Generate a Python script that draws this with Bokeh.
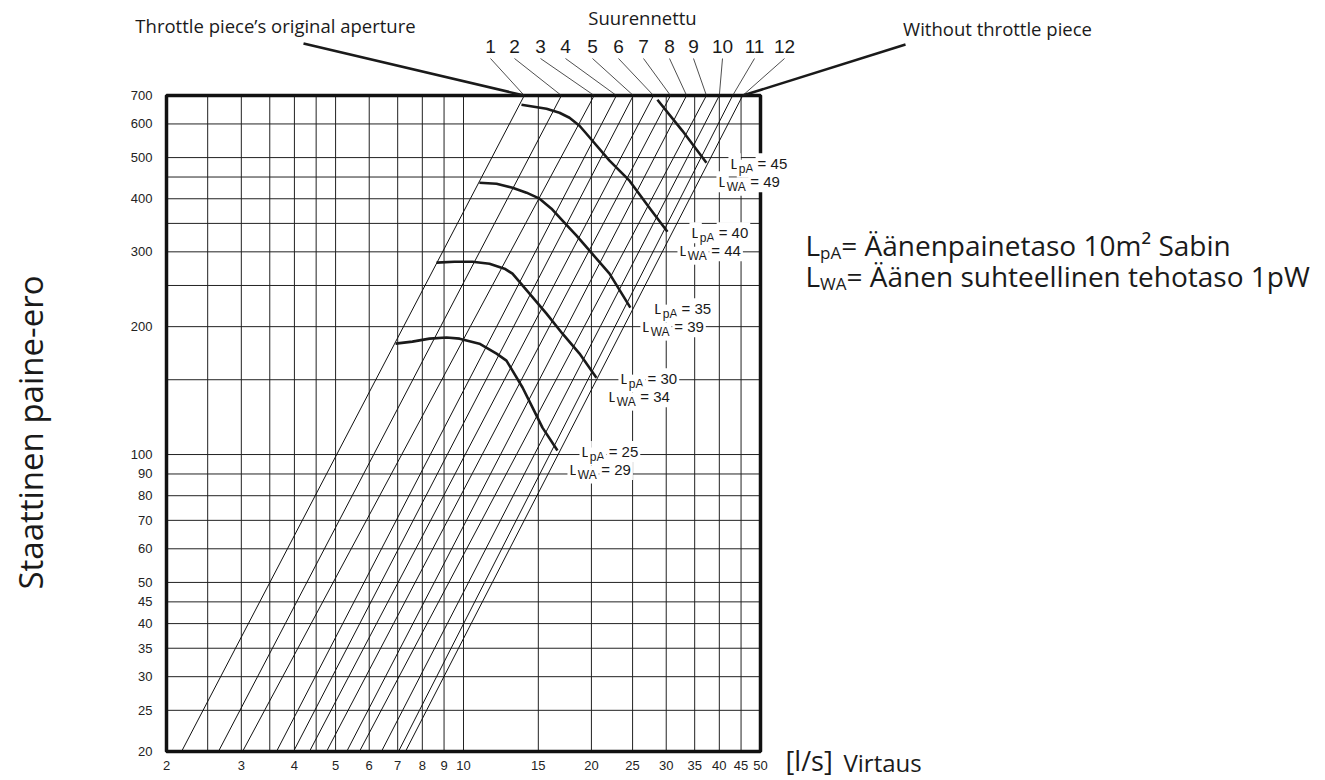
import math
from bokeh.plotting import figure
from bokeh.models import FixedTicker, Label, Arrow, BoxAnnotation, Range1d
from bokeh.embed import file_html
from bokeh.resources import INLINE

# ---------------- data ----------------
x_tick_values = [2, 3, 4, 5, 6, 7, 8, 9, 10, 15, 20, 25, 30, 35, 40, 45, 50]
x_grid_values = [2.5, 3, 3.5, 4, 4.5, 5, 6, 7, 8, 9, 10, 15, 20, 25, 30, 35, 40, 45]
y_tick_values = [20, 25, 30, 35, 40, 45, 50, 60, 70, 80, 90, 100, 200, 300, 400, 500, 600, 700]
y_grid_values = [25, 30, 35, 40, 45, 50, 60, 70, 80, 90, 100, 150, 200, 250, 300, 350, 400, 450, 500, 600]

throttle_positions = ["1", "2", "3", "4", "5", "6", "7", "8", "9", "10", "11", "12"]
flow_at_20pa = [2.17, 2.65, 3.02, 3.63, 3.98, 4.34, 4.76, 5.31, 5.69, 6.41, 7.03, 7.30]
flow_at_700pa = [13.9, 17.0, 20.3, 22.9, 25.1, 28.0, 30.7, 33.5, 37.3, 40.0, 43.0, 45.4]

lpa_levels = [25, 30, 35, 40, 45]
lwa_levels = [29, 34, 39, 44, 49]

lpa25_flow = [6.92, 7.58, 8.32, 9.12, 9.79, 10.9, 11.96, 12.62, 13.04, 13.77, 14.54, 15.34, 16.64]
lpa25_pres = [182.4, 184.4, 187.4, 188.5, 187.4, 182.4, 172.8, 166.4, 157.6, 143.8, 129.0, 115.7, 102.2]

lpa30_flow = [8.64, 9.52, 10.5, 11.51, 12.49, 13.04, 14.3, 15.68, 17.1, 18.75, 20.55]
lpa30_pres = [282.9, 284.4, 284.4, 281.3, 273.8, 266.5, 239.2, 214.6, 192.5, 172.8, 151.7]

lpa35_flow = [10.9, 11.96, 13.04, 14.07, 15.1, 16.11, 17.1, 18.45, 19.8, 22.06, 24.7]
lpa35_pres = [436.4, 434.0, 424.7, 413.4, 400.2, 379.1, 355.2, 327.6, 301.9, 266.5, 221.7]

lpa40_flow = [13.69, 15.68, 16.82, 17.76, 18.75, 19.47, 22.06, 24.58, 27.38, 30.2]
lpa40_pres = [666.0, 651.6, 637.6, 620.6, 594.2, 568.9, 491.8, 441.2, 381.1, 334.6]

lpa45_flow = [28.6, 32.75, 37.3]
lpa45_pres = [684.0, 578.0, 486.3]

curves_flow = [lpa25_flow, lpa30_flow, lpa35_flow, lpa40_flow, lpa45_flow]
curves_pres = [lpa25_pres, lpa30_pres, lpa35_pres, lpa40_pres, lpa45_pres]

# ---------------- layout ----------------
X0, X1 = 2, 50
Y0, Y1 = 20, 700
W, H = 1325, 780
BOX_L, BOX_T, BOX_W, BOX_H = 166, 95, 594, 656   # chart box in canvas pixels
DX = BOX_W / math.log10(X1 / X0)
DY = BOX_H / math.log10(Y1 / Y0)


def xd(px):  # canvas pixel -> data x
    return X0 * 10 ** ((px - BOX_L) / DX)


def yd(py):  # canvas pixel -> data y
    return Y1 * 10 ** ((BOX_T - py) / DY)


p = figure(width=W, height=H, x_axis_type="log", y_axis_type="log",
           x_range=Range1d(xd(0), xd(W)), y_range=Range1d(yd(H), yd(0)),
           output_backend="svg", toolbar_location=None, min_border=0)
p.background_fill_color = "white"
p.border_fill_color = "white"
p.outline_line_color = None
p.xgrid.visible = False
p.ygrid.visible = False

TICK_FONT = "Liberation Sans"
for ax in (p.xaxis[0], p.yaxis[0]):
    ax.axis_line_color = None
    ax.major_tick_line_color = None
    ax.minor_tick_line_color = None
    ax.major_tick_out = 0
    ax.major_tick_in = 0
    ax.minor_tick_out = 0
    ax.minor_tick_in = 0
    ax.major_label_text_font = TICK_FONT
    ax.major_label_text_font_size = "13px"
    ax.major_label_text_color = "#222222"

p.xaxis[0].fixed_location = Y0
p.xaxis[0].ticker = FixedTicker(ticks=x_tick_values)
p.xaxis[0].major_label_overrides = {v: str(v) for v in x_tick_values}
p.xaxis[0].major_label_standoff = 9
p.yaxis[0].fixed_location = X0
p.yaxis[0].ticker = FixedTicker(ticks=y_tick_values)
p.yaxis[0].major_label_overrides = {v: str(v) for v in y_tick_values}
p.yaxis[0].major_label_standoff = 14

# grid lines inside the chart box
p.segment(x0=x_grid_values, y0=[Y0] * len(x_grid_values),
          x1=x_grid_values, y1=[Y1] * len(x_grid_values),
          line_color="#222222", line_width=1)
p.segment(x0=[X0] * len(y_grid_values), y0=y_grid_values,
          x1=[X1] * len(y_grid_values), y1=y_grid_values,
          line_color="#222222", line_width=1)

# throttle lines
p.segment(x0=flow_at_20pa, y0=[Y0] * len(flow_at_20pa),
          x1=flow_at_700pa, y1=[Y1] * len(flow_at_700pa),
          line_color="#111111", line_width=1)

# sound level curves
for fl, pr in zip(curves_flow, curves_pres):
    p.line(fl, pr, line_color="#1a1a1a", line_width=2.6, line_join="round")

# chart border
p.add_layout(BoxAnnotation(left=X0, right=X1, bottom=Y0, top=Y1,
                           fill_color=None, fill_alpha=0,
                           line_color="#111111", line_alpha=1, line_width=3.5))


def lab(text, x, y, size, font="Open Sans", align="left", baseline="middle",
        angle=0.0, xo=0, yo=0, bg=None, color="#1a1a1a"):
    kw = {}
    if bg is not None:
        kw = dict(background_fill_color=bg, padding=2)
    l = Label(x=x, y=y, text=text, text_font=font, text_font_size=f"{size}px",
              text_align=align, text_baseline=baseline, angle=angle,
              x_offset=xo, y_offset=yo, text_color=color, **kw)
    p.add_layout(l)


# LpA / LWA labels anchored at curve ends
MAIN, SUB = 15, 12
wL = 0.556 * MAIN
wsp = 0.278 * MAIN
w_pA = (0.556 + 0.667) * SUB
w_WA = (0.944 + 0.667) * SUB
for fl, pr, lp, lw in zip(curves_flow, curves_pres, lpa_levels, lwa_levels):
    ex, ey = fl[-1], pr[-1]
    x1, y1 = 22, -1
    lab("L", ex, ey, MAIN, TICK_FONT, xo=x1, yo=y1, bg="white")
    lab("pA", ex, ey, SUB, TICK_FONT, xo=x1 + wL, yo=y1 - 5, bg="white")
    lab(f"= {lp}", ex, ey, MAIN, TICK_FONT, xo=x1 + wL + w_pA + wsp, yo=y1, bg="white")
    x2, y2 = 10, -19
    lab("L", ex, ey, MAIN, TICK_FONT, xo=x2, yo=y2, bg="white")
    lab("WA", ex, ey, SUB, TICK_FONT, xo=x2 + wL, yo=y2 - 5, bg="white")
    lab(f"= {lw}", ex, ey, MAIN, TICK_FONT, xo=x2 + wL + w_WA + wsp, yo=y2, bg="white")

# numbered throttle labels with leader lines
num_label_px = [490, 514, 540, 565, 592, 618, 643, 669, 693, 722, 754, 784]
for t, px, q in zip(throttle_positions, num_label_px, flow_at_700pa):
    lab(t, xd(px), yd(46), 19, TICK_FONT, align="center")
    p.add_layout(Arrow(end=None, x_start=xd(px), y_start=yd(58), x_end=q, y_end=Y1,
                       line_color="#222222", line_width=0.8))

# pointers
p.add_layout(Arrow(end=None, x_start=xd(303), y_start=yd(43), x_end=flow_at_700pa[0], y_end=Y1,
                   line_color="#1a1a1a", line_width=2.5))
p.add_layout(Arrow(end=None, x_start=xd(905), y_start=yd(44), x_end=flow_at_700pa[-1], y_end=Y1,
                   line_color="#1a1a1a", line_width=2.5))

lab("Throttle piece\u2019s original aperture", xd(275), yd(25), 18.5, align="center")
lab("Suurennettu", xd(642), yd(17), 18.5, align="center")
lab("Without throttle piece", xd(997), yd(28), 18.5, align="center")

# axis titles
lab("Staattinen paine-ero", xd(30), yd(432), 33, align="center", angle=math.pi / 2)
lab("[l/s]", xd(785), yd(760), 27, align="left")
lab("Virtaus", xd(843), yd(762), 24, align="left")

# right legend
LEG = 28
LSUB = 17
lab("L", xd(805), yd(244), LEG)
lab("pA", xd(805), yd(244), LSUB, xo=0.519 * LEG, yo=-8)
lab("= \u00c4\u00e4nenpainetaso 10m\u00b2 Sabin", xd(805), yd(244), LEG,
    xo=0.519 * LEG + 1.246 * LSUB)
lab("L", xd(805), yd(275), LEG)
lab("WA", xd(805), yd(275), LSUB, xo=0.519 * LEG, yo=-8)
lab("= \u00c4\u00e4nen suhteellinen tehotaso 1pW", xd(805), yd(275), LEG,
    xo=0.519 * LEG + 1.558 * LSUB)

open("out.html", "w").write(file_html(p, INLINE))
